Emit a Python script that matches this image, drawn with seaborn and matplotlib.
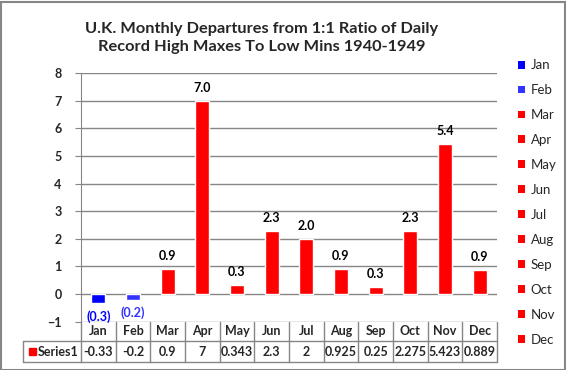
import matplotlib
matplotlib.use("Agg")
import matplotlib.pyplot as plt
import matplotlib.transforms as mtransforms
from matplotlib.patches import Patch, Rectangle
from matplotlib.lines import Line2D
import seaborn as sns

# data
months = ["Jan", "Feb", "Mar", "Apr", "May", "Jun", "Jul", "Aug", "Sep", "Oct", "Nov", "Dec"]
values = [-0.33, -0.2, 0.9, 7, 0.343, 2.3, 2, 0.925, 0.25, 2.275, 5.423, 0.889]
table_text = ["-0.33", "-0.2", "0.9", "7", "0.343", "2.3", "2", "0.925", "0.25", "2.275", "5.423", "0.889"]
bar_labels = ["(0.3)", "(0.2)", "0.9", "7.0", "0.3", "2.3", "2.0", "0.9", "0.3", "2.3", "5.4", "0.9"]
bar_colors = ["#0000FF", "#3333FF"] + ["#FF0000"] * 10
series_name = "Series1"
title = "U.K. Monthly Departures from 1:1 Ratio of Daily\nRecord High Maxes To Low Mins 1940-1949"

sns.set_style("white")
plt.rcParams["font.family"] = ["Lato", "DejaVu Sans"]
grid_col = "#868686"

W, H = 566, 370
fig = plt.figure(figsize=(W / 100, H / 100), dpi=100)
ax = fig.add_axes([81 / W, 1 - 321.7 / H, 416 / W, (321.7 - 73) / H])

sns.barplot(x=months, y=values, hue=months, palette=bar_colors, width=0.41,
            saturation=1, legend=False, ax=ax, zorder=3)

ax.set_xlim(-0.5, 11.5)
ax.set_ylim(-1, 8)
ax.set_yticks(range(-1, 9))
ax.yaxis.grid(True, color=grid_col, lw=1)
ax.set_axisbelow(True)
for s in ["top", "right", "bottom"]:
    ax.spines[s].set_visible(False)
ax.spines["left"].set_color(grid_col)
ax.tick_params(axis="y", left=True, length=4, color=grid_col, pad=10, labelsize=9)
for t in ax.get_yticklabels():
    t.set_fontweight("bold")
ax.set_xticks([])
ax.set_xlabel("")
ax.set_ylabel("")

# data labels
for i, (v, lab) in enumerate(zip(values, bar_labels)):
    if v >= 0:
        ax.annotate(lab, (i, v), xytext=(0, 5), textcoords="offset points",
                    ha="center", va="bottom", fontsize=9, fontweight="bold", color="black")
    else:
        ax.annotate(lab, (i, v), xytext=(0, -5), textcoords="offset points",
                    ha="center", va="top", fontsize=9, fontweight="bold", color=bar_colors[i])

# data table under the axes
trans = mtransforms.blended_transform_factory(ax.transData, ax.transAxes)
axh = 321.7 - 73
r1 = -(341 - 321.7) / axh
r2 = -(362 - 321.7) / axh
lab_left = -(81 - 23) / 416
for k in range(13):
    ax.add_line(Line2D([k - 0.5, k - 0.5], [0, r2], transform=trans, color=grid_col,
                       lw=1, clip_on=False))
for yy in [r1, r2]:
    ax.add_line(Line2D([lab_left, 1], [yy, yy], transform=ax.transAxes, color=grid_col,
                       lw=1, clip_on=False))
ax.add_line(Line2D([lab_left, lab_left], [r1, r2], transform=ax.transAxes, color=grid_col,
                   lw=1, clip_on=False))
for i, (m, t) in enumerate(zip(months, table_text)):
    ax.text(i, r1 / 2, m, transform=trans, ha="center", va="center",
            fontsize=9, fontweight="bold")
    ax.text(i, (r1 + r2) / 2, t, transform=trans, ha="center", va="center",
            fontsize=9, fontweight="bold")
ax.add_patch(Rectangle((lab_left + 6 / 416, (r1 + r2) / 2 - 3.5 / axh), 7 / 416, 7 / axh,
                       transform=ax.transAxes, color="#FF0000", clip_on=False))
ax.text(lab_left + 15 / 416, (r1 + r2) / 2, series_name, transform=ax.transAxes,
        ha="left", va="center", fontsize=9, fontweight="bold")

# legend on the right
handles = [Patch(facecolor=c, edgecolor="none") for c in bar_colors]
fig.legend(handles, months, loc="upper left", bbox_to_anchor=(513 / W, 1 - 54 / H),
           frameon=False, fontsize=9.5, handlelength=0.54, handleheight=0.54,
           handletextpad=0.4, labelspacing=0.98, borderaxespad=0)

fig.text(0.463, 1 - 38 / H, title, ha="center", va="center", fontsize=11.8,
         fontweight="bold", linespacing=1.35)

fig.patches.append(Rectangle((0.5 / W, 0.5 / H), 1 - 2 / W, 1 - 2 / H, transform=fig.transFigure,
                             fill=False, edgecolor=grid_col, lw=1.5))

fig.savefig("out.png", dpi=100)
